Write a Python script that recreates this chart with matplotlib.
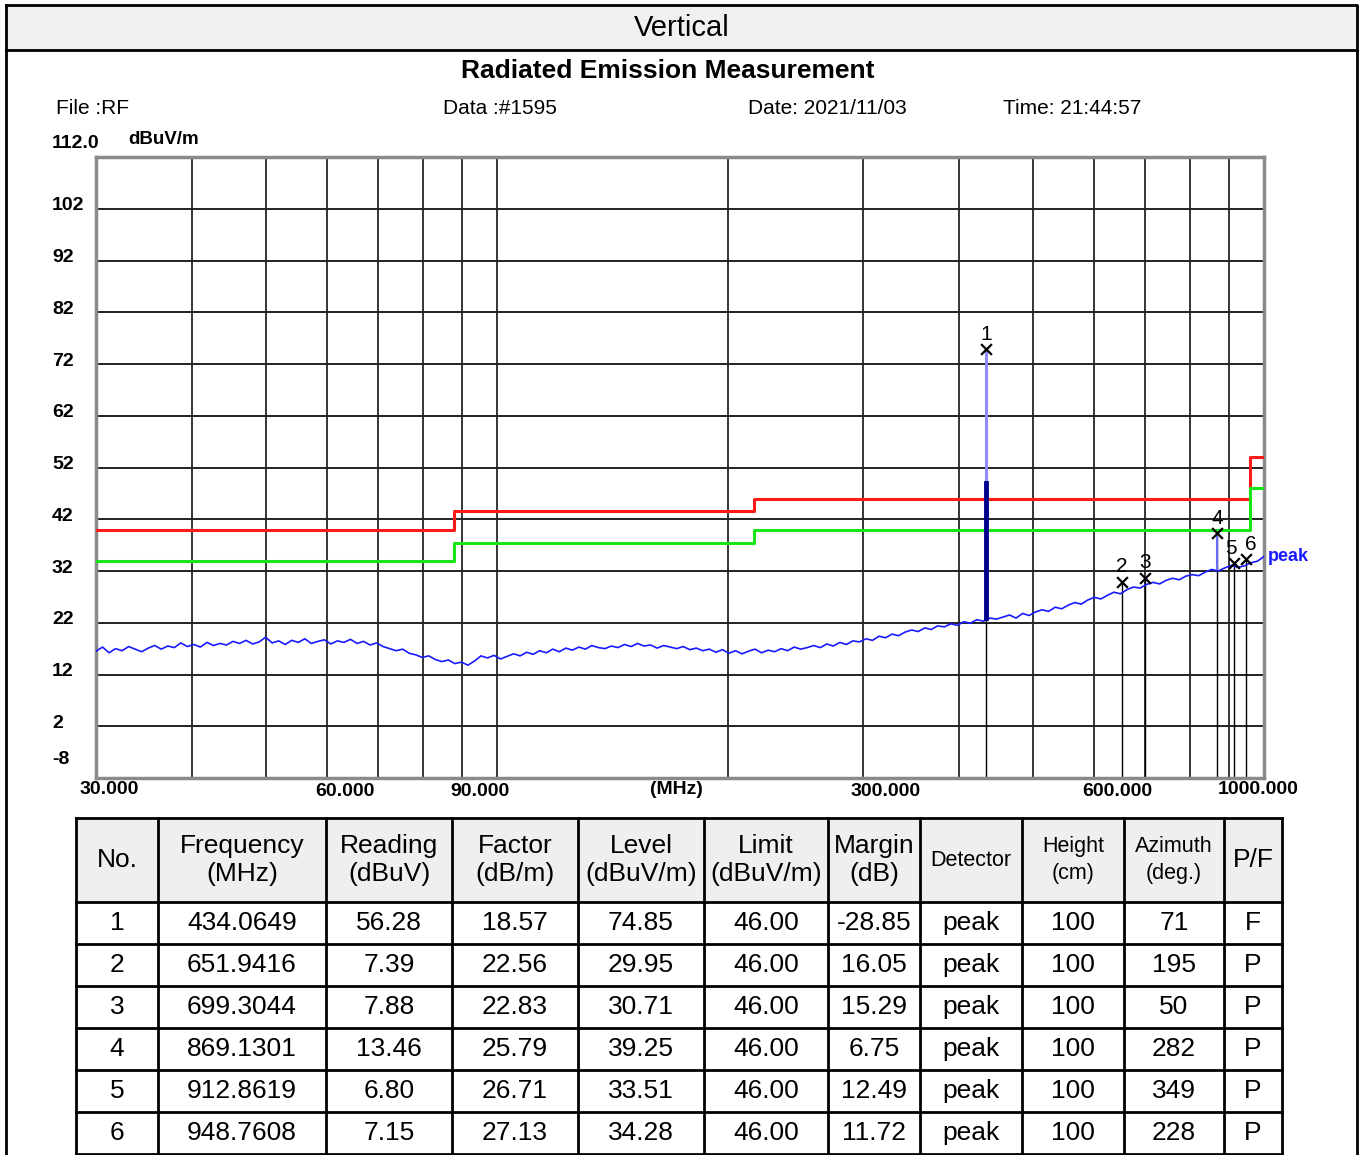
import numpy as np
import matplotlib
matplotlib.use('Agg')
import matplotlib.pyplot as plt
from matplotlib.transforms import blended_transform_factory
from matplotlib.patches import Rectangle

plt.rcParams['font.family'] = ['Liberation Sans', 'DejaVu Sans']

# ---- data -----------------------------------------------------------------
# measured noise floor (dBuV/m), sweep 30 MHz .. 1 GHz on a log grid
trace_level = [
    16.5, 17.3, 16.2, 17.0, 16.6, 17.4, 16.9, 16.4, 17.1, 17.6,
    16.9, 17.5, 17.2, 18.1, 17.4, 17.8, 17.3, 18.2, 17.6, 18.0,
    17.7, 18.4, 18.0, 18.6, 17.9, 18.3, 19.2, 18.1, 18.5, 17.8,
    18.6, 18.2, 18.9, 18.0, 18.4, 18.7, 17.9, 18.5, 18.2, 18.8,
    18.0, 18.4, 17.7, 18.1, 17.4, 17.0, 16.6, 16.9, 16.1, 15.8,
    15.3, 15.6, 14.9, 14.5, 14.8, 14.1, 14.4, 13.8, 14.6, 15.6,
    15.2, 15.7, 15.0, 15.5, 16.0, 15.6, 16.3, 15.9, 16.6, 16.2,
    16.9, 16.4, 17.1, 16.7, 17.3, 16.9, 17.6, 17.2, 17.0, 17.5,
    17.2, 17.8, 17.4, 18.0, 17.5, 17.7, 17.1, 17.6, 17.3, 17.0,
    17.4, 16.8, 17.1, 16.6, 16.9, 16.3, 16.8, 16.1, 16.6, 16.0,
    16.5, 16.9, 16.2, 16.7, 16.4, 17.0, 16.6, 17.3, 16.9, 17.2,
    17.6, 17.2, 17.9, 17.5, 18.2, 17.8, 18.5, 18.3, 18.9, 18.6,
    19.4, 19.1, 19.8, 19.5, 20.2, 20.6, 20.3, 21.0, 20.7, 21.4,
    21.2, 21.8, 21.5, 22.2, 21.9, 22.6, 22.3, 22.9, 22.7, 23.1,
    23.5, 22.9, 23.8, 23.4, 24.1, 24.5, 24.2, 25.0, 24.7, 25.4,
    25.9, 25.6, 26.4, 26.9, 26.6, 27.3, 27.9, 27.6, 28.4, 28.9,
    28.7, 29.4, 29.8, 29.5, 30.2, 30.6, 30.3, 31.0, 31.3, 31.1,
    31.8, 32.3, 32.0, 32.6, 33.1, 32.7, 33.0, 33.6, 33.9, 34.8,
]
trace_freq = np.geomspace(30, 1000, len(trace_level))

# limit lines (class B) and -6 dB margin line
limit_edges = [30, 88, 216, 960, 1000]
limit_red = [40.0, 43.5, 46.0, 54.0]
limit_green = [34.0, 37.5, 40.0, 48.0]

# peak at marker 1: top of the live trace
peak1_trace_top = 49.0

# marker table
m_no = ['1', '2', '3', '4', '5', '6']
m_freq = [434.0649, 651.9416, 699.3044, 869.1301, 912.8619, 948.7608]
m_reading = ['56.28', '7.39', '7.88', '13.46', '6.80', '7.15']
m_factor = ['18.57', '22.56', '22.83', '25.79', '26.71', '27.13']
m_level = [74.85, 29.95, 30.71, 39.25, 33.51, 34.28]
m_limit = ['46.00'] * 6
m_margin = ['-28.85', '16.05', '15.29', '6.75', '12.49', '11.72']
m_detector = ['peak'] * 6
m_height = ['100'] * 6
m_azimuth = ['71', '195', '50', '282', '349', '228']
m_pf = ['F', 'P', 'P', 'P', 'P', 'P']
m_trace_base = [23.0, 29.0, 29.6, 32.4, 32.6, 32.8]

y_ticks = [-8, 2, 12, 22, 32, 42, 52, 62, 72, 82, 92, 102, 112]
x_grid = [40, 50, 60, 70, 80, 90, 100, 200, 300, 400, 500, 600, 700, 800, 900]

# ---- figure ---------------------------------------------------------------
W, H = 1362, 1155
fig = plt.figure(figsize=(W / 100, H / 100), dpi=100)
bg = fig.add_axes([0, 0, 1, 1], zorder=0)
bg.set_xlim(0, W)
bg.set_ylim(H, 0)
bg.axis('off')

# header band and outer frame
bg.add_patch(Rectangle((6, 5), 1351, 45, facecolor='#f0f0f0', edgecolor='none'))
bg.plot([6, 1357, 1357], [5, 5, H], color='black', lw=2)
bg.plot([6, 6], [5, H], color='black', lw=2)
bg.plot([6, 1357], [50, 50], color='black', lw=2)
bg.text(682, 28, 'Vertical', ha='center', va='center', fontsize=21)

bg.text(668, 71, 'Radiated Emission Measurement', ha='center', va='center',
        fontsize=19, fontweight='bold')
bg.text(56, 108, 'File :RF', va='center', fontsize=15)
bg.text(443, 108, 'Data :#1595', va='center', fontsize=15)
bg.text(748, 108, 'Date: 2021/11/03', va='center', fontsize=15)
bg.text(1003, 108, 'Time: 21:44:57', va='center', fontsize=15)
bg.text(128, 140, 'dBuV/m', va='center', fontsize=13.5, fontweight='bold')

# ---- chart ----------------------------------------------------------------
L, R, T, B = 96, 1264, 157, 778
ax = fig.add_axes([L / W, 1 - B / H, (R - L) / W, (B - T) / H], zorder=1)
ax.set_xscale('log')
ax.set_xlim(30, 1000)
ax.set_ylim(-8, 112)
ax.set_xticks([]); ax.set_xticks([], minor=True)
ax.set_yticks([])
for s in ax.spines.values():
    s.set_color('#8a8a8a'); s.set_linewidth(2.5)
for f in x_grid:
    ax.axvline(f, color='black', lw=1.1, zorder=1)
for v in y_ticks[1:-1]:
    ax.axhline(v, color='#222222', lw=1.4, zorder=1)

ax.step(limit_edges, limit_red + [limit_red[-1]], where='post',
        color='#ff1a1a', lw=2.2, zorder=3)
ax.step(limit_edges, limit_green + [limit_green[-1]], where='post',
        color='#19e619', lw=2.2, zorder=3)

# marker drop lines
for f, lv in zip(m_freq, m_level):
    ax.plot([f, f], [-8, lv], color='black', lw=1, zorder=2)

ax.plot(trace_freq, trace_level, color='#1a1aff', lw=1.2, zorder=4)

# spikes
ax.plot([m_freq[0]] * 2, [peak1_trace_top, m_level[0]], color='#8c8cff',
        lw=2.2, zorder=4)
ax.plot([m_freq[0]] * 2, [m_trace_base[0], peak1_trace_top], color='#00008c',
        lw=3.5, zorder=5)
ax.plot([m_freq[3]] * 2, [m_trace_base[3], m_level[3]], color='#6a6aff',
        lw=1.5, zorder=4)

ax.scatter(m_freq, m_level, marker='x', s=60, color='black', lw=1.6, zorder=6)
for i, (f, lv) in enumerate(zip(m_freq, m_level)):
    dx = 0
    if i == 4:
        dx = -2
    if i == 5:
        dx = 3
    ax.annotate(m_no[i], (f, lv), xytext=(dx, 4), textcoords='offset points',
                ha='center', va='bottom', fontsize=15, zorder=7)

ax.annotate('peak', (1000, trace_level[-1]), xytext=(3, 0),
            textcoords='offset points', ha='left', va='center',
            color='#1a1aff', fontsize=13, fontweight='bold',
            annotation_clip=False)

# y labels
ytr = blended_transform_factory(bg.transData, ax.transData)
for v in y_ticks:
    lab = '112.0' if v == 112 else str(v)
    off = {112: 14, -8: 18}.get(v, 3)
    ax.annotate(lab, (52, v), xycoords=ytr, xytext=(0, off * 0.72),
                textcoords='offset points', ha='left', va='center',
                fontsize=14, fontweight='bold', annotation_clip=False)

# x labels
xtr = blended_transform_factory(ax.transData, bg.transData)
x_lab_freq = [30, 60, 90, 300, 600, 1000]
x_lab_text = ['30.000', '60.000', '90.000', '300.000', '600.000', '1000.000']
x_lab_dx = [13, 18, 18, 23, 23, -6]
x_lab_y = [789, 792, 792, 792, 792, 789]
for f, t, dx, yy in zip(x_lab_freq, x_lab_text, x_lab_dx, x_lab_y):
    ax.annotate(t, (f, yy), xycoords=xtr, xytext=(dx * 0.72, 0),
                textcoords='offset points', ha='center', va='center',
                fontsize=14, fontweight='bold', annotation_clip=False)
bg.text(676, 790, '(MHz)', ha='center', va='center', fontsize=14,
        fontweight='bold')

# ---- table ----------------------------------------------------------------
col_edges = [76, 158, 326, 452, 578, 704, 828, 920, 1022, 1124, 1224, 1282]
row_edges = [818, 902, 944, 986, 1028, 1070, 1112, 1154]
headers = ['No.', 'Frequency\n(MHz)', 'Reading\n(dBuV)', 'Factor\n(dB/m)',
           'Level\n(dBuV/m)', 'Limit\n(dBuV/m)', 'Margin\n(dB)', 'Detector',
           'Height\n(cm)', 'Azimuth\n(deg.)', 'P/F']
head_size = [19, 19, 19, 19, 19, 19, 19, 15.5, 15.5, 15.5, 19]

bg.add_patch(Rectangle((col_edges[0], row_edges[0]),
                       col_edges[-1] - col_edges[0], row_edges[1] - row_edges[0],
                       facecolor='#efefef', edgecolor='none'))
for yy in row_edges:
    bg.plot([col_edges[0], col_edges[-1]], [yy, yy], color='black', lw=2)
for xx in col_edges:
    bg.plot([xx, xx], [row_edges[0], H], color='black', lw=2)

for j, (h, fs) in enumerate(zip(headers, head_size)):
    cx = (col_edges[j] + col_edges[j + 1]) / 2
    bg.text(cx, (row_edges[0] + row_edges[1]) / 2, h, ha='center', va='center',
            fontsize=fs, linespacing=1.25 if fs > 16 else 1.35)

columns = [m_no, ['%.4f' % f for f in m_freq], m_reading, m_factor,
           ['%.2f' % v for v in m_level], m_limit, m_margin, m_detector,
           m_height, m_azimuth, m_pf]
for i in range(len(m_no)):
    cy = (row_edges[i + 1] + row_edges[i + 2]) / 2
    for j, col in enumerate(columns):
        cx = (col_edges[j] + col_edges[j + 1]) / 2
        bg.text(cx, cy, col[i], ha='center', va='center', fontsize=19)

fig.savefig('out.png', dpi=100)
